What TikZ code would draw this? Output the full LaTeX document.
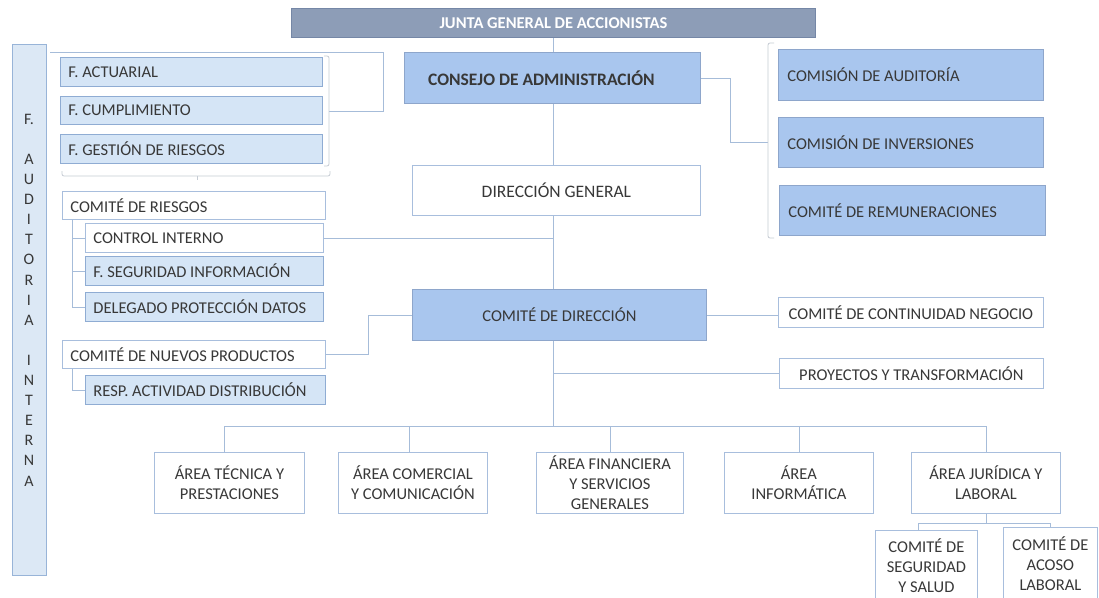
\documentclass[tikz,border=0pt]{standalone}
\usepackage{fontspec}
\setmainfont{Carlito}
\definecolor{juntaf}{HTML}{8D9DB7}
\definecolor{juntab}{HTML}{7587A6}
\definecolor{midblue}{HTML}{A9C6EE}
\definecolor{midbord}{HTML}{8EA6CB}
\definecolor{lblue}{HTML}{D5E5F6}
\definecolor{lbord}{HTML}{8FACD3}
\definecolor{wbord}{HTML}{A8BEDD}
\definecolor{auditf}{HTML}{DCE8F5}
\definecolor{auditb}{HTML}{98B4D8}
\definecolor{lnc}{HTML}{A6BCD9}
\definecolor{brkc}{HTML}{C6CCD4}
\definecolor{txt}{HTML}{383838}
\begin{document}
\begin{tikzpicture}[x=1pt,y=-1pt,
  base/.style={draw, line width=0.8pt, inner sep=0pt, text=txt,
    font=\fontsize{16.5}{20}\selectfont, anchor=north west,
    execute at begin node={\spaceskip=0pt\xspaceskip=0pt\relax}},
  lbox/.style={base, align=left, inner xsep=8pt},
  cbox/.style={base, align=center},
  lightb/.style={fill=lblue, draw=lbord},
  whiteb/.style={fill=white, draw=wbord},
  midb/.style={fill=midblue, draw=midbord},
  conn/.style={draw=lnc, line width=0.8pt},
  brk/.style={draw=brkc, line width=0.8pt, rounded corners=2pt}]
\useasboundingbox (0,0) rectangle (1099,597);
\fill[white] (0,0) rectangle (1099,597);

% top
\node[cbox, fill=juntaf, draw=juntab, minimum width=524pt, minimum height=29pt,
  text=white, font=\bfseries\fontsize{16.5}{18}\selectfont] (junta) at (291,8) {JUNTA GENERAL DE ACCIONISTAS};
\node[cbox, midb, minimum width=296pt, minimum height=51pt,
  font=\bfseries\fontsize{17.5}{20}\selectfont] (consejo) at (404,52) {CONSEJO DE ADMINISTRACIÓN\hspace*{22pt}};
\node[cbox, whiteb, minimum width=288pt, minimum height=50pt,
  font=\fontsize{17.5}{20}\selectfont] (dg) at (412,165) {DIRECCIÓN GENERAL};
\node[cbox, midb, minimum width=294pt, minimum height=51pt] (cd) at (412,289) {COMITÉ DE DIRECCIÓN};

% right column
\node[lbox, midb, inner xsep=9pt, text width=247pt, minimum height=51pt] (ca) at (778,49) {COMISIÓN DE AUDITORÍA};
\node[lbox, midb, inner xsep=9pt, text width=247pt, minimum height=50pt] (ci) at (778,117) {COMISIÓN DE INVERSIONES};
\node[lbox, midb, inner xsep=9pt, text width=248pt, minimum height=50pt] (cr) at (779,185) {COMITÉ DE REMUNERACIONES};
\node[cbox, whiteb, minimum width=265pt, minimum height=30pt] (ccn) at (778,297) {COMITÉ DE CONTINUIDAD NEGOCIO};
\node[cbox, whiteb, minimum width=264pt, minimum height=30pt] (pyt) at (779,358) {PROYECTOS Y TRANSFORMACIÓN};

% auditoria interna
\node[base, fill=auditf, draw=auditb, minimum width=34pt, minimum height=531pt] (aud) at (12,44) {};
\node[align=center, inner sep=0pt, text=txt, font=\fontsize{16}{20.1}\selectfont] (audtxt) at (29,300)
  {F.\\[20.1pt]A\\U\\D\\I\\T\\O\\R\\I\\A\\[20.1pt]I\\N\\T\\E\\R\\N\\A};

% left column
\node[lbox, lightb, text width=246pt, minimum height=29pt] (fact) at (60,57) {F. ACTUARIAL};
\node[lbox, lightb, text width=246pt, minimum height=28pt] (fcum) at (60,96) {F. CUMPLIMIENTO};
\node[lbox, lightb, text width=246pt, minimum height=29pt] (fges) at (60,134) {F. GESTIÓN DE RIESGOS};
\node[lbox, whiteb, text width=247pt, minimum height=28pt] (crie) at (62,191) {COMITÉ DE RIESGOS};
\node[lbox, whiteb, text width=222pt, minimum height=29pt] (cint) at (85,223) {CONTROL INTERNO};
\node[lbox, lightb, text width=222pt, minimum height=29pt] (fseg) at (85,256) {F. SEGURIDAD INFORMACIÓN};
\node[lbox, lightb, text width=222pt, minimum height=29pt] (dpd) at (85,292) {DELEGADO PROTECCIÓN DATOS};
\node[lbox, whiteb, text width=247pt, minimum height=28pt] (cnp) at (62,340) {COMITÉ DE NUEVOS PRODUCTOS};
\node[lbox, lightb, text width=224pt, minimum height=29pt] (rad) at (85,375) {RESP. ACTIVIDAD DISTRIBUCIÓN};

% bottom areas
\node[cbox, whiteb, minimum width=150pt, minimum height=61pt] (a1) at (154,452) {ÁREA TÉCNICA Y\\PRESTACIONES};
\node[cbox, whiteb, minimum width=149pt, minimum height=61pt] (a2) at (338,452) {ÁREA COMERCIAL\\Y COMUNICACIÓN};
\node[cbox, whiteb, minimum width=147pt, minimum height=61pt] (a3) at (536,452) {ÁREA FINANCIERA\\Y SERVICIOS\\GENERALES};
\node[cbox, whiteb, minimum width=149pt, minimum height=61pt] (a4) at (724,452) {ÁREA\\INFORMÁTICA};
\node[cbox, whiteb, minimum width=149pt, minimum height=61pt] (a5) at (911,452) {ÁREA JURÍDICA Y\\LABORAL};
\node[cbox, whiteb, minimum width=102pt, minimum height=70pt] (cs) at (875,530) {COMITÉ DE\\SEGURIDAD\\Y SALUD};
\node[cbox, whiteb, minimum width=94pt, minimum height=72pt] (cac) at (1003,527) {COMITÉ DE\\ACOSO\\LABORAL};

% coordinates
\coordinate (sp) at (553,0);
\coordinate (bus) at (0,426);
\coordinate (jj) at (0,523);
\coordinate (tl) at (50,52);
\coordinate (tlc) at (383,52);
\coordinate (lbr) at (329,111);
\coordinate (rbr) at (768,142);

% spine
\draw[conn] (junta.south -| sp) -- (consejo.north -| sp);
\draw[conn] (consejo.south -| sp) -- (dg.north -| sp);
\draw[conn] (dg.south -| sp) -- (cd.north -| sp);
\draw[conn] (cd.south -| sp) -- (sp |- bus);
\draw[conn] ([xshift=-5pt]a1.north) -- ([xshift=-5pt]a1.north |- bus) -- (a5.north |- bus) -- (a5.north);
\draw[conn] ([xshift=-4pt]a2.north) -- ([xshift=-4pt]a2.north |- bus);
\draw[conn] (a3.north) -- (a3.north |- bus);
\draw[conn] (a4.north) -- (a4.north |- bus);
\draw[conn] (a5.south) -- (a5.south |- jj);
\draw[conn] ([xshift=-8pt]cs.north) -- ([xshift=-8pt]cs.north |- jj) -- (cac.north |- jj) -- (cac.north);

% left side connectors
\draw[conn] (tl) -- (tlc) -- (tlc |- lbr) -- (lbr);
\draw[brk] (324,56) -- (329,56) -- (329,166) -- (324,166);
\draw[brk] (62,171) -- (62,176) -- (330,176) -- (330,171);
\draw[brk] (197,176) -- (197,180);
\draw[conn] ([xshift=10pt]crie.south west) |- (cint.west);
\draw[conn] ([xshift=10pt]crie.south west) |- (fseg.west);
\draw[conn] ([xshift=10pt]crie.south west) |- (dpd.west);
\draw[conn] ([xshift=10pt]cnp.south west) |- (rad.west);
\draw[conn] (cint.east) -- (cint.east -| sp);
\draw[conn] (cnp.east) -- ++(43,0) |- (cd.west);

% right side connectors
\draw[conn] (consejo.east) -- ++(30,0) |- (rbr);
\draw[brk] (774,43) -- (768,43) -- (768,238) -- (774,238);
\draw[conn] (cd.east) -- (cd.east -| ccn.west);
\draw[conn] (pyt.west -| sp) -- (pyt.west);
\end{tikzpicture}
\end{document}
